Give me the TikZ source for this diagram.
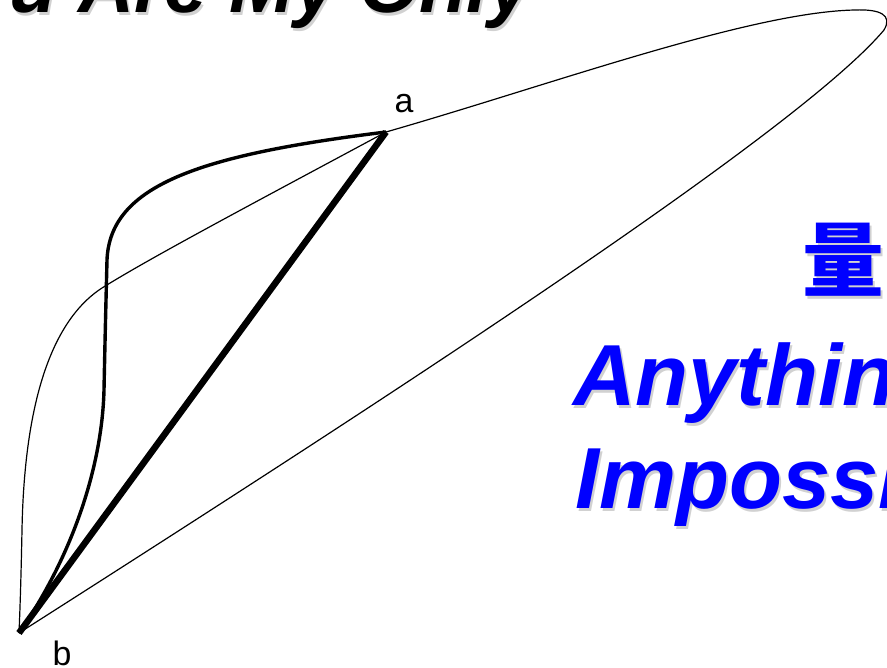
\documentclass[tikz,border=0pt]{standalone}
\usepackage{fontspec}
\setmainfont{Liberation Sans}
\newfontfamily\cjk{Noto Sans CJK TC}
\usepackage{xcolor}
\usepackage{tikz}
\definecolor{slideblue}{RGB}{0,0,255}

\begin{document}
\begin{tikzpicture}[x=1bp, y=-1bp,
  thin curve/.style={line width=1.2bp},
  mid curve/.style={line width=3.4bp},
  thick line/.style={line width=6.5bp},
  title/.style={inner sep=0pt, anchor=base east, font=\fontsize{78}{80}\selectfont\bfseries\itshape},
  slogan/.style={inner sep=0pt, anchor=base west, text=slideblue, font=\fontsize{87}{90}\selectfont\bfseries\itshape},
  hanzi/.style={inner sep=0pt, text=slideblue, font=\fontsize{82}{84}\selectfont\cjk\bfseries},
  shadow/.style={text=black!18},
  point label/.style={inner sep=0pt, font=\fontsize{34}{36}\selectfont}]
  \useasboundingbox (0,0) rectangle (887,668);

  % Title and slogan, cut by the page edge
  \node[title, shadow] (titleshadow) at (534,16) {u Are My Only};
  \node[title] (titletext) at (532,13) {u Are My Only};
  \node[hanzi, shadow] (hanzishadow) at (845,263) {量};
  \node[hanzi] (hanzitext) at (843,260) {量};
  \node[slogan, shadow] (line1shadow) at (575,408) {Anythin};
  \node[slogan] (line1) at (573,405) {Anythin};
  \node[slogan, shadow] (line2shadow) at (577,511) {Impossi};
  \node[slogan] (line2) at (575,508) {Impossi};

  % End points
  \coordinate (a) at (386,132);
  \coordinate (b) at (19,633);
  \node[point label] (alabel) at (404,104) {a};
  \node[point label] (blabel) at (62,653) {b};

  % Straight path
  \draw[thick line] (b) -- (a);

  % Wavy path
  \draw[mid curve, line join=round] (a) .. controls (200,155) and (110,185) .. (107,260)
    .. controls (106,300) and (105,340) .. (104,390)
    .. controls (102,470) and (70,560) .. (b);

  % Long loop through the right
  \draw[thin curve] (b) .. controls (400,390) and (800,130) .. (884,30)
    .. controls (893,15) and (880,9) .. (855,10)
    .. controls (750,12) and (550,85) .. (a);
  \draw[thin curve] (a) .. controls (250,205) and (150,258) .. (102,288)
    .. controls (45,325) and (24,420) .. (22,530)
    .. controls (21,580) and (20,610) .. (b);
\end{tikzpicture}
\end{document}
